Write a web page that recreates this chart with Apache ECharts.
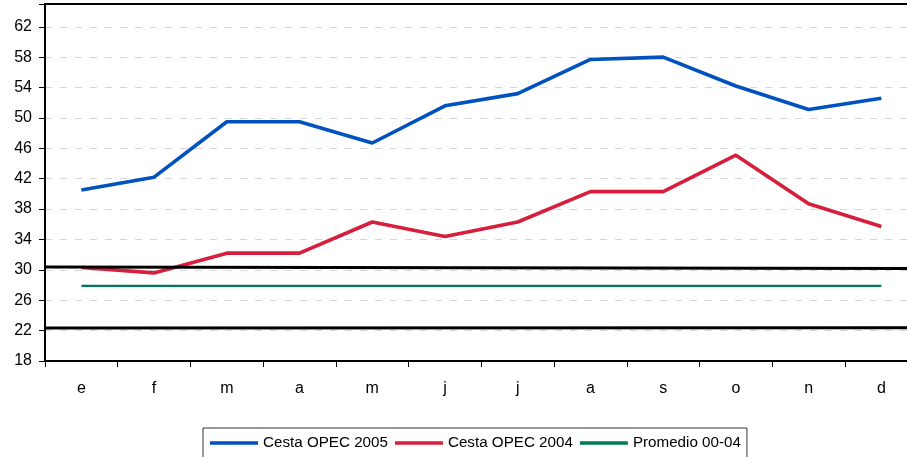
<!DOCTYPE html>
<html>
<head>
<meta charset="utf-8">
<script src="https://cdn.jsdelivr.net/npm/echarts@6/dist/echarts.min.js"></script>
<style>
html,body{margin:0;padding:0;background:#fff;}
#chart{width:907px;height:457px;}
</style>
</head>
<body>
<div id="chart"></div>
<script>
const months = ['e','f','m','a','m','j','j','a','s','o','n','d'];
const cesta2005 = [40.5, 42.2, 49.5, 49.5, 46.7, 51.6, 53.2, 57.7, 58.0, 54.2, 51.1, 52.6];
const cesta2004 = [30.3, 29.6, 32.2, 32.2, 36.3, 34.4, 36.3, 40.3, 40.3, 45.1, 38.7, 35.7];
const promedio = [27.9, 27.9, 27.9, 27.9, 27.9, 27.9, 27.9, 27.9, 27.9, 27.9, 27.9, 27.9];
const upperLine = [[0, 30.38], [1, 30.18]];
const lowerLine = [[0, 22.33], [1, 22.38]];
const yMin = 18, yMax = 65, yStep = 4;

const font = 'Liberation Sans, Arial, sans-serif';
const chart = echarts.init(document.getElementById('chart'), null, {renderer: 'canvas'});
chart.setOption({
  animation: false,
  backgroundColor: '#ffffff',
  grid: {
    left: 45, top: 4, width: 872.7, height: 357,
    show: false, containLabel: false, outerBoundsMode: 'none'
  },
  legend: {
    left: 203, top: 428,
    data: [
      {name: 'Cesta OPEC 2005', icon: 'rect'},
      {name: 'Cesta OPEC 2004', icon: 'rect'},
      {name: 'Promedio 00-04', icon: 'rect'}
    ],
    itemWidth: 48, itemHeight: 3.5, itemGap: 7,
    padding: [7, 6, 8, 7],
    borderColor: '#333', borderWidth: 1,
    textStyle: {fontFamily: font, fontSize: 15.2, color: '#000', lineHeight: 16}
  },
  xAxis: [{
    type: 'category', data: months, boundaryGap: true,
    axisLine: {show: true, lineStyle: {color: '#000', width: 2}},
    axisTick: {show: true, length: 6, lineStyle: {color: '#000', width: 1}},
    axisLabel: {fontFamily: font, fontSize: 16, color: '#000', margin: 20},
    splitLine: {show: false}
  }, {
    type: 'value', min: 0, max: 1, position: 'top', show: true,
    axisLine: {show: true, onZero: false, lineStyle: {color: '#000', width: 2}},
    axisTick: {show: false}, axisLabel: {show: false}, splitLine: {show: false}
  }],
  yAxis: {
    type: 'value', min: yMin, max: yMax, interval: yStep,
    axisLine: {show: true, lineStyle: {color: '#000', width: 2}},
    axisTick: {show: true, length: 6, lineStyle: {color: '#000', width: 1}},
    axisLabel: {
      fontFamily: font, fontSize: 16, color: '#000', margin: 13,
      formatter: v => ((v - yMin) % yStep === 0 ? String(v) : '')
    },
    splitLine: {show: true, lineStyle: {color: '#d3d7da', width: 1, type: [7, 8]}}
  },
  series: [
    {name: 'Cesta OPEC 2005', type: 'line', data: cesta2005, symbol: 'none',
     lineStyle: {color: '#0052bf', width: 3.6}, itemStyle: {color: '#0052bf'}, z: 3},
    {name: 'Cesta OPEC 2004', type: 'line', data: cesta2004, symbol: 'none',
     lineStyle: {color: '#d71f3d', width: 3.6}, itemStyle: {color: '#d71f3d'}, z: 3},
    {name: 'Promedio 00-04', type: 'line', data: promedio, symbol: 'none',
     lineStyle: {color: '#007a58', width: 2.2}, itemStyle: {color: '#007a58'}, z: 3},
    {name: 'banda sup', type: 'line', xAxisIndex: 1, data: upperLine, symbol: 'none',
     lineStyle: {color: '#000', width: 3}, z: 4, silent: true},
    {name: 'banda inf', type: 'line', xAxisIndex: 1, data: lowerLine, symbol: 'none',
     lineStyle: {color: '#000', width: 3}, z: 4, silent: true}
  ]
});
</script>
</body>
</html>
